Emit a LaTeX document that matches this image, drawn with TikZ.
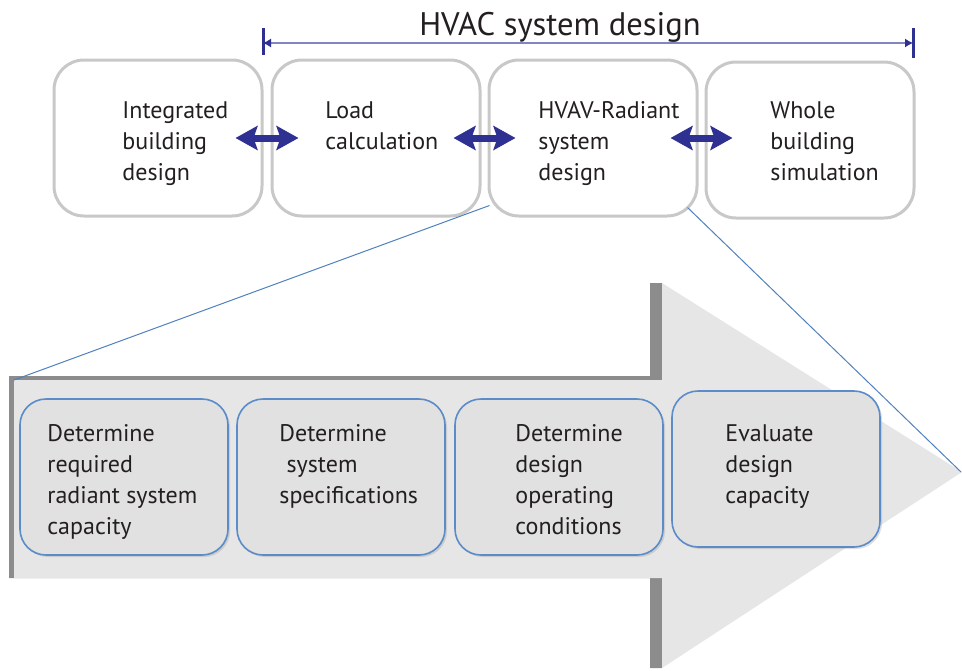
\documentclass[tikz,border=0pt]{standalone}
\usepackage{fontspec}
\setmainfont{PT Sans}
\usetikzlibrary{arrows.meta, shadows}
\definecolor{hvacblue}{HTML}{2E3192}
\definecolor{dimblue}{HTML}{8285C4}
\definecolor{zoomblue}{HTML}{4F81BD}
\definecolor{boxgray}{HTML}{C8C8C8}
\definecolor{arrowgray}{HTML}{E6E6E6}
\definecolor{shadegray}{HTML}{8C8C8C}
\definecolor{stepfill}{HTML}{E1E1E1}
\definecolor{stepline}{HTML}{5B8BC9}
\definecolor{textgray}{HTML}{231F20}

\begin{document}
\begin{tikzpicture}[x=0.5pt, y=-0.5pt,
		topbox/.style={draw=boxgray, line width=1.5pt, fill=white, rounded corners=15pt, minimum width=104pt, minimum height=78pt, inner sep=0pt},
		stepbox/.style={draw=stepline, line width=0.8pt, fill=stepfill, rounded corners=13pt, minimum width=104pt, minimum height=78pt, inner sep=0pt, drop shadow={shadow xshift=1pt, shadow yshift=-1pt, opacity=0.25}},
		boxtext/.style={anchor=north west, align=left, inner sep=0pt, text=textgray, font=\fontsize{12}{15.5}\selectfont},
		dblarrow/.style={draw=hvacblue, line width=3.5pt, {Stealth[length=11pt,width=12pt,inset=2pt]}-{Stealth[length=11pt,width=12pt,inset=2pt]}, shorten <=-14pt, shorten >=-14pt},
		zoomline/.style={draw=zoomblue, line width=0.5pt},
	]
			\useasboundingbox (0,0) rectangle (962,670);

			\fill[shadegray] (9,376) -- (650,376) -- (650,283) -- (662,283) -- (662,668) -- (650,668) -- (650,578) -- (9,578) -- cycle;
			\fill[arrowgray] (14,380) -- (662,380) -- (662,283) -- (962,472) -- (662,668) -- (662,578) -- (14,578) -- cycle;
			\coordinate (arrowcorner) at (14,380);
			\coordinate (arrowtip) at (961,472);

			\node[font=\fontsize{16.3}{19}\selectfont, text=textgray] (title) at (560,27) {HVAC system design};
			\coordinate (dimleft) at (263,43);
			\coordinate (dimright) at (913,43);
			\draw[dimblue, line width=0.6pt, {Latex[length=4pt,width=4.5pt,color=hvacblue]}-{Latex[length=4pt,width=4.5pt,color=hvacblue]}] (dimleft) -- (dimright);
			\draw[hvacblue, line width=1.5pt]
					(dimleft) ++(0,-15) -- ++(0,27)
					(dimright) ++(0,-15) -- ++(0,30);

			\node[topbox] (b1) at (158,138) {};
			\node[topbox] (b2) at (376,138) {};
			\node[topbox] (b3) at (593,138) {};
			\node[topbox] (b4) at (810,140) {};
			\node[boxtext] (t1) at (122,101) {Integrated\\building\\design};
			\node[boxtext] (t2) at (325,101) {Load\\calculation};
			\node[boxtext] (t3) at (538,101) {HVAV-Radiant\\system\\design};
			\node[boxtext] (t4) at (770,101) {Whole\\building\\simulation};

			\draw[dblarrow] (b1.east) -- (b2.west);
			\draw[dblarrow] (b2.east) -- (b3.west);
			\draw[dblarrow] (b3.east) -- (b3.east -| b4.west);

			\draw[zoomline] ([xshift=1pt,yshift=6pt]b3.south west) -- (arrowcorner);
			\draw[zoomline] ([xshift=-5.5pt,yshift=5pt]b3.south east) -- (arrowtip);

			\node[stepbox] (s1) at (124,477) {};
			\node[stepbox] (s2) at (341,477) {};
			\node[stepbox] (s3) at (559,477) {};
			\node[stepbox] (s4) at (776,469) {};
			\node[boxtext] (u1) at (47,424) {Determine\\required\\radiant system\\capacity};
			\node[boxtext] (u2) at (279,424) {Determine\\\hspace*{0.3em}system\\specifications};
			\node[boxtext] (u3) at (515,424) {Determine\\design\\operating\\conditions};
			\node[boxtext] (u4) at (725,424) {Evaluate\\design\\capacity};

		\end{tikzpicture}
\end{document}
